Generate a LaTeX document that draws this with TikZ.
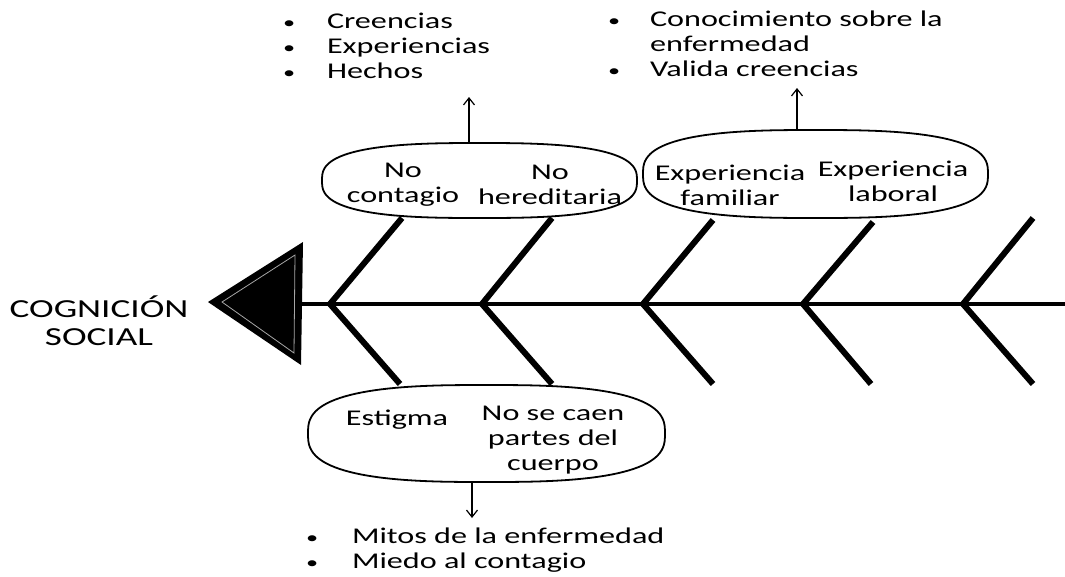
\documentclass[tikz,border=0pt]{standalone}
\usepackage{fontspec}
\setmainfont{Carlito}[FakeStretch=1.43]
\usetikzlibrary{positioning,calc,arrows.meta}
\newcommand{\bul}{{\fontsize{17}{25}\selectfont\textbullet}}

\begin{document}
\begin{tikzpicture}[x=1pt,y=-1pt,
    every node/.style = {inner sep=0pt,outer sep=0pt,align=center,font=\fontsize{22.5}{25}\selectfont},
    bubble/.style = {minimum width=#1},
    bubbleline/.style = {draw,line width=1.8pt,fill=white},
    bone/.style = {line width=6pt},
    spine/.style = {line width=4.5pt},
    thinarrow/.style = {line width=1.2pt,-{Straight Barb[length=7pt,width=11pt]}},
    ]
    \useasboundingbox (0,0) rectangle (1065,576);
    % head of the fish
    \coordinate (tip) at (208,302);
    \coordinate (head-top) at (303,242);
    \coordinate (head-bot) at (301,365);
    \fill[black] (tip) -- (head-top) -- (head-bot) -- cycle;
    \draw[gray!70,line width=0.8pt] (222,302) -- (295,255) -- (294,353) -- cycle;
    \node[font=\fontsize{26}{28}\selectfont] (title) at (99,321) {COGNICIÓN\\SOCIAL};
    % spine and bones
    \coordinate (v1) at (330,304);
    \coordinate (v2) at (482,304);
    \coordinate (v3) at (643,304);
    \coordinate (v4) at (803,304);
    \coordinate (v5) at (963,304);
    \draw[spine] (300,304) -- (1065,304);
    \draw[bone] ($(v1)+(72,-86)$) -- (v1) -- ++(70,80);
    \draw[bone] ($(v2)+(70,-86)$) -- (v2) -- ++(70,80);
    \draw[bone] ($(v3)+(70,-84)$) -- (v3) -- ++(70,80);
    \draw[bone] ($(v4)+(70,-82)$) -- (v4) -- ++(68,80);
    \draw[bone] ($(v5)+(70,-86)$) -- (v5) -- ++(70,80);
    % bubbles
    \node[bubble=315pt,minimum height=75pt] (bub-ul) at (479.5,180.5) {};
    \node[bubble=345pt,minimum height=88pt] (bub-ur) at (815.5,174) {};
    \node[bubble=357pt,minimum height=97pt] (bub-lo) at (486.5,433.5) {};
    \draw[bubbleline,shift={(bub-ul.center)}] plot[domain=1.5:361.5,samples=121]
        ({157.5*sign(cos(\x))*abs(cos(\x))^0.72},{37.5*sign(sin(\x))*abs(sin(\x))^0.72}) -- cycle;
    \draw[bubbleline,shift={(bub-ur.center)}] plot[domain=1.5:361.5,samples=121]
        ({172.5*sign(cos(\x))*abs(cos(\x))^0.72},{44*sign(sin(\x))*abs(sin(\x))^0.72}) -- cycle;
    \draw[bubbleline,shift={(bub-lo.center)}] plot[domain=1.5:361.5,samples=121]
        ({178.5*sign(cos(\x))*abs(cos(\x))^0.72},{48.5*sign(sin(\x))*abs(sin(\x))^0.72}) -- cycle;
    \node (txt-contagio) at (403,185) {No\\contagio};
    \node (txt-hered) at (550,185) {No\\hereditaria};
    \node (txt-familiar) at (730,185) {Experiencia\\familiar};
    \node (txt-laboral) at (893,181) {Experiencia\\laboral};
    \node (txt-estigma) at (397,420) {Estigma};
    \node (txt-partes) at (553,440) {No se caen\\partes del\\cuerpo};
    % lists
    \node[anchor=west] (list-ul) at (283,48) {\begin{tabular}{@{}p{44pt}@{}l@{}}
        \bul & Creencias\\
        \bul & Experiencias\\
        \bul & Hechos
        \end{tabular}};
    \node[anchor=west] (list-ur) at (608,46) {\begin{tabular}{@{}p{42pt}@{}l@{}}
        \bul & Conocimiento sobre la\\
             & enfermedad\\
        \bul & Valida creencias
        \end{tabular}};
    \node[anchor=west] (list-lo) at (306,551) {\begin{tabular}{@{}p{46pt}@{}l@{}}
        \bul & Mitos de la enfermedad\\
        \bul & Miedo al contagio
        \end{tabular}};
    % arrows
    \coordinate (tip-ul) at (469,97);
    \coordinate (tip-ur) at (797,88);
    \coordinate (tip-lo) at (472,518);
    \draw[thinarrow] (tip-ul |- bub-ul.north) -- (tip-ul);
    \draw[thinarrow] (tip-ur |- bub-ur.north) -- (tip-ur);
    \draw[thinarrow] (tip-lo |- bub-lo.south) -- (tip-lo);
\end{tikzpicture}
\end{document}
